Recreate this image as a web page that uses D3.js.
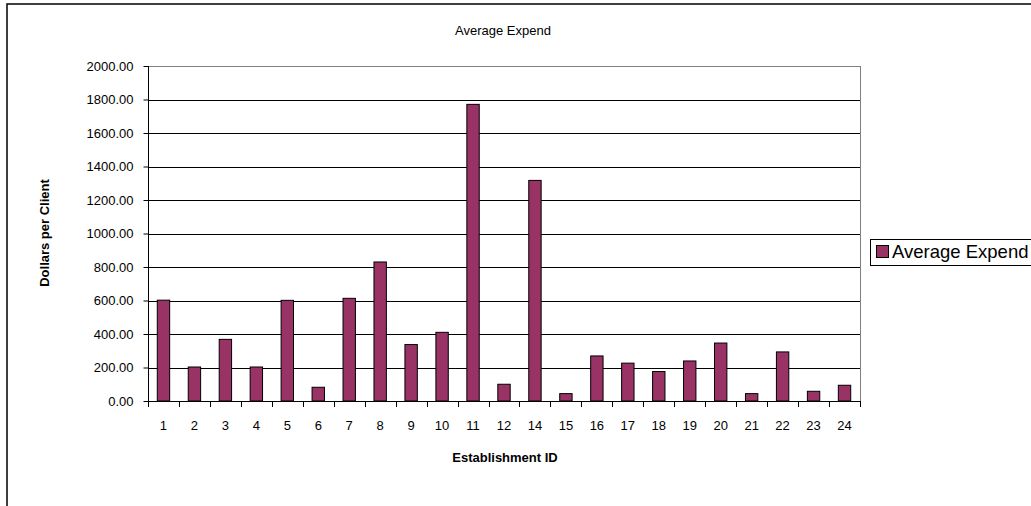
<!DOCTYPE html>
<html>
<head>
<meta charset="utf-8">
<script src="https://cdn.jsdelivr.net/npm/d3@7"></script>
<style>
  html, body { margin: 0; padding: 0; background: #fff; }
  svg { display: block; font-family: "Liberation Sans", Arial, sans-serif; }
</style>
</head>
<body>
<script>
// Establishment IDs (13 has no record) and average spend per client
const categories = ["1","2","3","4","5","6","7","8","9","10","11","12","14","15","16","17","18","19","20","21","22","23","24"];
const averageExpend = [602, 203, 368, 203, 601, 82, 613, 830, 337, 410, 1771, 100, 1317, 44, 269, 226, 176, 239, 346, 44, 293, 58, 94];
const yTicks = [0, 200, 400, 600, 800, 1000, 1200, 1400, 1600, 1800, 2000];
const seriesName = "Average Expend";

const W = 1031, H = 506;
const plot = { left: 148, top: 66, right: 860, bottom: 401 };

const svg = d3.select("body").append("svg").attr("width", W).attr("height", H);

// outer chart frame
svg.append("rect").attr("x", 7).attr("y", 4).attr("width", W).attr("height", H)
  .attr("fill", "#fff").attr("stroke", "#000").attr("stroke-width", 1.5);

const x = d3.scaleBand().domain(categories).range([plot.left, plot.right]).paddingInner(0.6).paddingOuter(0.3);
const xBoundary = d3.scaleBand().domain(categories).range([plot.left, plot.right]);
const y = d3.scaleLinear().domain([0, 2000]).range([plot.bottom, plot.top]);

// gridlines
svg.append("g").selectAll("line").data(yTicks.filter(d => d > 0)).join("line")
  .attr("x1", plot.left).attr("x2", plot.right)
  .attr("y1", d => Math.round(y(d)) + 0.5).attr("y2", d => Math.round(y(d)) + 0.5)
  .attr("stroke", d => d === 2000 ? "#808080" : "#000").attr("stroke-width", 1);

// plot-area right border
svg.append("line").attr("x1", plot.right + 0.5).attr("x2", plot.right + 0.5)
  .attr("y1", plot.top).attr("y2", plot.bottom).attr("stroke", "#808080");

// bars
svg.append("g").selectAll("rect").data(categories).join("rect")
  .attr("x", d => x(d))
  .attr("y", (d, i) => y(averageExpend[i]))
  .attr("width", x.bandwidth())
  .attr("height", (d, i) => y(0) - y(averageExpend[i]))
  .attr("fill", "#993366").attr("stroke", "#000").attr("stroke-width", 1);

// y axis
const yAxis = d3.axisLeft(y).tickValues(yTicks).tickFormat(d3.format(".2f")).tickSize(5).tickPadding(10);
const gy = svg.append("g").attr("transform", `translate(${plot.left + 0.5},0)`).call(yAxis);
gy.select(".domain").attr("stroke", "#000").attr("d", `M0,${plot.top}V${plot.bottom}`);
gy.selectAll(".tick line").attr("stroke", "#000");
gy.selectAll("text").attr("font-size", 13).attr("fill", "#000").attr("font-family", "Liberation Sans, Arial, sans-serif");

// x axis: baseline, boundary ticks, labels
const gx = svg.append("g");
gx.append("line").attr("x1", plot.left).attr("x2", plot.right + 1)
  .attr("y1", Math.round(y(0)) + 0.5).attr("y2", Math.round(y(0)) + 0.5).attr("stroke", "#000");
const bounds = categories.map(c => xBoundary(c)).concat([plot.right]);
gx.selectAll("line.tk").data(bounds).join("line").attr("class", "tk")
  .attr("x1", d => Math.round(d) + 0.5).attr("x2", d => Math.round(d) + 0.5)
  .attr("y1", Math.round(y(0))).attr("y2", Math.round(y(0)) + 6).attr("stroke", "#000");
gx.selectAll("text").data(categories).join("text")
  .attr("x", d => xBoundary(d) + xBoundary.bandwidth() / 2)
  .attr("y", 430).attr("text-anchor", "middle").attr("font-size", 13).text(d => d);

// titles
svg.append("text").attr("x", 503).attr("y", 35).attr("text-anchor", "middle")
  .attr("font-size", 13).text("Average Expend");
svg.append("text").attr("x", 505).attr("y", 462).attr("text-anchor", "middle")
  .attr("font-size", 13).attr("font-weight", "bold").text("Establishment ID");
svg.append("text").attr("transform", "translate(49,233) rotate(-90)").attr("text-anchor", "middle")
  .attr("font-size", 13).attr("font-weight", "bold").text("Dollars per Client");

// legend
const lg = svg.append("g");
lg.append("rect").attr("x", 870.5).attr("y", 239.5).attr("width", 170).attr("height", 26)
  .attr("fill", "#fff").attr("stroke", "#000");
lg.append("rect").attr("x", 876.5).attr("y", 245.5).attr("width", 12).attr("height", 12)
  .attr("fill", "#993366").attr("stroke", "#000");
lg.append("text").attr("x", 892).attr("y", 258).attr("font-size", 18.5).text(seriesName);
</script>
</body>
</html>
